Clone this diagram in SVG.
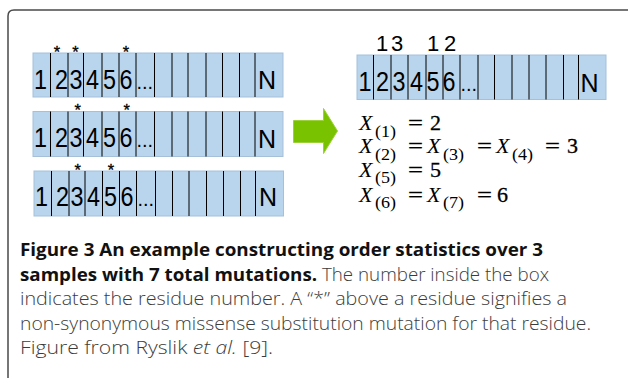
<svg xmlns="http://www.w3.org/2000/svg" width="628" height="378" viewBox="0 0 628 378">
<style>
.box{fill:#b9d4ed;stroke:#a6c0da;stroke-width:1}
.div{fill:none;stroke:#000;stroke-width:1}
.d{font-family:"Liberation Sans",Arial,sans-serif;font-size:28.5px;fill:#000;text-anchor:middle}
.n{font-family:"Liberation Sans",Arial,sans-serif;font-size:25px;fill:#000;text-anchor:middle}
.e{font-family:"Liberation Sans",Arial,sans-serif;font-size:20px;fill:#000}
.s{font-family:"Liberation Sans",Arial,sans-serif;font-size:16.5px;fill:#000;text-anchor:middle;stroke:#000;stroke-width:0.3}
.c{font-family:"Liberation Sans",Arial,sans-serif;font-size:22px;fill:#000;text-anchor:middle}
.x{font-family:"Liberation Serif","Times New Roman",serif;font-size:22px;font-style:italic;fill:#000}
.sub{font-family:"Liberation Serif","Times New Roman",serif;font-size:16px;fill:#000}
.m{font-family:"Liberation Serif","Times New Roman",serif;font-size:22px;fill:#000;stroke:#000;stroke-width:0.3}
.cap{font-family:"Open Sans","Noto Sans",sans-serif;font-size:18px;fill:#3c3c3c;font-weight:300}
.b{font-weight:700;fill:#111}
</style>
<path d="M8 378V16Q8 10 14 10H628" fill="none" stroke="#4a4a4a" stroke-width="1.5"/>

<g id="row1">
<rect class="box" x="33" y="53" width="250" height="44"/>
<path class="div" d="M50.5 53V97M68 53V97M83.5 53V97M102 53V97M119 53V97M136 53V97M154.5 53V97M172 53V97M188 53V97M206 53V97M222.5 53V97M239.5 53V97M255 53V97"/>
<g transform="translate(0 88.5)">
<text class="d" transform="translate(40.5 0) scale(.82 1)">1</text><text class="d" transform="translate(61.5 0) scale(.82 1)">2</text><text class="d" transform="translate(76 0) scale(.82 1)">3</text><text class="d" transform="translate(92.5 0) scale(.82 1)">4</text><text class="d" transform="translate(109.5 0) scale(.82 1)">5</text><text class="d" transform="translate(126 0) scale(.82 1)">6</text>
</g>
<text class="e" x="136.5" y="88.5">...</text>
<text class="n" x="267" y="89">N</text>
<text class="s" x="57" y="58.3">*</text><text class="s" x="75.5" y="58.3">*</text><text class="s" x="126" y="58.3">*</text>
</g>

<g id="row2">
<rect class="box" x="33" y="111.5" width="250" height="45"/>
<path class="div" d="M50.5 111.5V156.5M68 111.5V156.5M83.5 111.5V156.5M102 111.5V156.5M119 111.5V156.5M136 111.5V156.5M154.5 111.5V156.5M172 111.5V156.5M188 111.5V156.5M206 111.5V156.5M222.5 111.5V156.5M239.5 111.5V156.5M255 111.5V156.5"/>
<g transform="translate(0 147.3)">
<text class="d" transform="translate(40.5 0) scale(.82 1)">1</text><text class="d" transform="translate(61.5 0) scale(.82 1)">2</text><text class="d" transform="translate(76 0) scale(.82 1)">3</text><text class="d" transform="translate(92.5 0) scale(.82 1)">4</text><text class="d" transform="translate(109.5 0) scale(.82 1)">5</text><text class="d" transform="translate(126 0) scale(.82 1)">6</text>
</g>
<text class="e" x="136.5" y="147.3">...</text>
<text class="n" x="267" y="148">N</text>
<text class="s" x="77.7" y="115.8">*</text><text class="s" x="126.7" y="115.8">*</text>
</g>

<g id="row3">
<rect class="box" x="34" y="171" width="249.5" height="45"/>
<path class="div" d="M51.5 171V216M69 171V216M85 171V216M102.5 171V216M119.5 171V216M136.5 171V216M155.5 171V216M172.5 171V216M189 171V216M206.5 171V216M223.5 171V216M240.5 171V216M255.5 171V216"/>
<g transform="translate(0 205.5)">
<text class="d" transform="translate(41.5 0) scale(.82 1)">1</text><text class="d" transform="translate(62.5 0) scale(.82 1)">2</text><text class="d" transform="translate(77 0) scale(.82 1)">3</text><text class="d" transform="translate(93.5 0) scale(.82 1)">4</text><text class="d" transform="translate(110.5 0) scale(.82 1)">5</text><text class="d" transform="translate(127 0) scale(.82 1)">6</text>
</g>
<text class="e" x="137.5" y="205.5">...</text>
<text class="n" x="268" y="206">N</text>
<text class="s" x="77.7" y="175.8">*</text><text class="s" x="111" y="175.8">*</text>
</g>

<g id="result">
<text class="c" x="382" y="50.5">1</text><text class="c" x="397" y="50.5">3</text>
<text class="c" x="433" y="50.5">1</text><text class="c" x="450" y="50.5">2</text>
<rect class="box" x="357" y="55" width="249" height="44.5"/>
<path class="div" d="M373.5 55V99.5M391 55V99.5M408 55V99.5M426 55V99.5M443 55V99.5M460 55V99.5M478 55V99.5M494.5 55V99.5M512 55V99.5M529 55V99.5M546 55V99.5M563.5 55V99.5M578.5 55V99.5"/>
<g transform="translate(0 91)">
<text class="d" transform="translate(365 0) scale(.82 1)">1</text><text class="d" transform="translate(382.5 0) scale(.82 1)">2</text><text class="d" transform="translate(399 0) scale(.82 1)">3</text><text class="d" transform="translate(416.5 0) scale(.82 1)">4</text><text class="d" transform="translate(433 0) scale(.82 1)">5</text><text class="d" transform="translate(449 0) scale(.82 1)">6</text>
</g>
<text class="e" x="460.5" y="91">...</text>
<text class="n" x="589.5" y="91.5">N</text>
</g>

<g id="connectors">
<path d="M293.5 120.5H323.5V108.5L337.5 131L323.5 153.5V142.5H293.5Z" fill="#79c200" stroke="#9bd23c" stroke-width="1"/>
</g>

<g id="equations">
<text class="x" x="359" y="130">X</text><text class="sub" x="375" y="136.5" textLength="21" lengthAdjust="spacingAndGlyphs">(1)</text><text class="m" x="408" y="130" textLength="15" lengthAdjust="spacingAndGlyphs">=</text><text class="m" x="430" y="130">2</text>

<text class="x" x="359" y="153.3">X</text><text class="sub" x="375" y="159.8" textLength="21" lengthAdjust="spacingAndGlyphs">(2)</text><text class="m" x="408" y="153.3" textLength="15" lengthAdjust="spacingAndGlyphs">=</text>
<text class="x" x="427" y="153.3">X</text><text class="sub" x="443" y="159.8" textLength="21" lengthAdjust="spacingAndGlyphs">(3)</text><text class="m" x="477" y="153.3" textLength="15" lengthAdjust="spacingAndGlyphs">=</text>
<text class="x" x="496" y="153.3">X</text><text class="sub" x="512" y="159.8" textLength="21" lengthAdjust="spacingAndGlyphs">(4)</text><text class="m" x="545" y="153.3" textLength="15" lengthAdjust="spacingAndGlyphs">=</text><text class="m" x="567" y="153.3">3</text>

<text class="x" x="359" y="176.7">X</text><text class="sub" x="375" y="183.2" textLength="21" lengthAdjust="spacingAndGlyphs">(5)</text><text class="m" x="408" y="176.7" textLength="15" lengthAdjust="spacingAndGlyphs">=</text><text class="m" x="430" y="176.7">5</text>

<text class="x" x="359" y="201.7">X</text><text class="sub" x="375" y="208.2" textLength="21" lengthAdjust="spacingAndGlyphs">(6)</text><text class="m" x="408" y="201.7" textLength="15" lengthAdjust="spacingAndGlyphs">=</text>
<text class="x" x="427" y="201.7">X</text><text class="sub" x="443" y="208.2" textLength="21" lengthAdjust="spacingAndGlyphs">(7)</text><text class="m" x="477" y="201.7" textLength="15" lengthAdjust="spacingAndGlyphs">=</text><text class="m" x="497" y="201.7">6</text>
</g>

<g id="caption">
<text class="cap b" x="20" y="256" textLength="523" lengthAdjust="spacingAndGlyphs">Figure 3 An example constructing order statistics over 3</text>
<text class="cap" x="20" y="280.5" textLength="529" lengthAdjust="spacingAndGlyphs"><tspan class="b">samples with 7 total mutations.</tspan> The number inside the box</text>
<text class="cap" x="20" y="305" textLength="547" lengthAdjust="spacingAndGlyphs">indicates the residue number. A “*” above a residue signifies a</text>
<text class="cap" x="20" y="329.5" textLength="571" lengthAdjust="spacingAndGlyphs">non-synonymous missense substitution mutation for that residue.</text>
<text class="cap" x="20" y="354" textLength="253" lengthAdjust="spacingAndGlyphs">Figure from Ryslik <tspan font-style="italic">et al.</tspan> [9].</text>
</g>
</svg>
